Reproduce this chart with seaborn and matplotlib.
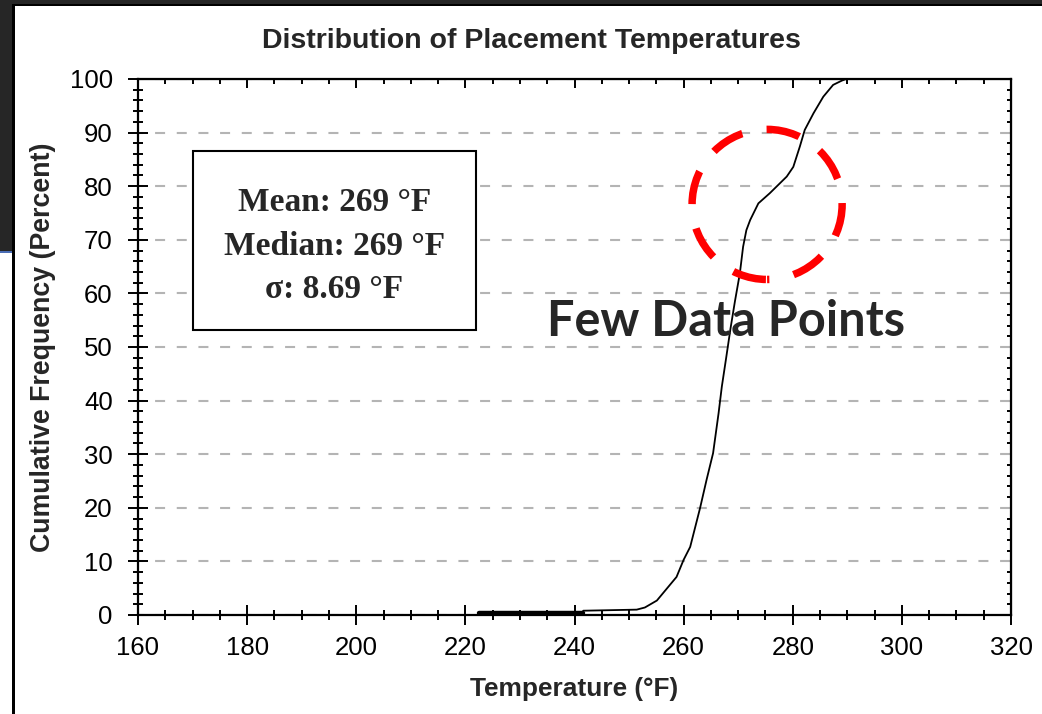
import matplotlib
matplotlib.use("Agg")
import matplotlib.pyplot as plt
from matplotlib.patches import Rectangle, Ellipse
from matplotlib.ticker import MultipleLocator
import seaborn as sns
import pandas as pd

# Cumulative distribution of placement temperatures
temperature_f = [222.5, 230.0, 241.5, 241.6, 251.4, 252.9, 255.1, 258.7, 260.0,
                 261.2, 263.0, 264.2, 265.4, 266.4, 267.0, 267.8, 268.6, 269.4,
                 270.3, 270.9, 271.5, 272.2, 273.7, 275.8, 277.0, 278.9, 280.1,
                 281.3, 282.2, 283.8, 285.6, 287.4, 289.0, 289.8]
cumulative_pct = [0.3, 0.3, 0.3, 0.8, 1.0, 1.4, 2.7, 7.1, 10.3,
                  12.7, 19.9, 25.2, 30.2, 37.6, 42.6, 48.0, 53.5, 58.5,
                  63.7, 68.7, 71.8, 73.7, 76.8, 78.7, 79.9, 81.8, 83.6,
                  87.4, 90.5, 93.6, 96.7, 98.9, 99.7, 100.0]

stats_lines = ["Mean: 269 °F", "Median: 269 °F", "σ: 8.69 °F"]
callout_text = "Few Data Points"
callout_center = (275.3, 76.6)   # temperature, percent
callout_size = (27.5, 28.0)

x_ticks = [160, 180, 200, 220, 240, 260, 280, 300, 320]
y_ticks = [0, 10, 20, 30, 40, 50, 60, 70, 80, 90, 100]

df = pd.DataFrame({"Temperature": temperature_f, "Cumulative": cumulative_pct})

sns.set_style("white")
plt.rcParams["font.family"] = ["Liberation Sans", "DejaVu Sans"]

W, H = 1042, 714
fig = plt.figure(figsize=(W / 100, H / 100), dpi=100)
fig.patch.set_facecolor("white")


def px_rect(x0, y0, x1, y1, color):
    # rectangle given in pixel coordinates measured from the top-left corner
    fig.add_artist(Rectangle((x0 / W, 1 - y1 / H), (x1 - x0) / W, (y1 - y0) / H,
                             transform=fig.transFigure, facecolor=color,
                             edgecolor="none", zorder=0))


# slide frame around the chart
px_rect(0, 0, W, 5, "#262626")
px_rect(0, 0, 12, 251, "#262626")
px_rect(0, 251, 12, 253, "#4a6db5")
px_rect(12, 4, W, 6, "#000000")
px_rect(12, 4, 14.5, H, "#000000")

ax = fig.add_axes([138 / W, 1 - 615 / H, (1011 - 138) / W, (615 - 79) / H])

sns.lineplot(data=df, x="Temperature", y="Cumulative", ax=ax, color="black",
             linewidth=1.3, estimator=None, sort=False, zorder=4)
sns.lineplot(data=df.iloc[:3], x="Temperature", y="Cumulative", ax=ax,
             color="black", linewidth=3.2, estimator=None, sort=False, zorder=4)

ax.set_xlim(x_ticks[0], x_ticks[-1])
ax.set_ylim(y_ticks[0], y_ticks[-1])
ax.set_xticks(x_ticks)
ax.set_yticks(y_ticks)
ax.xaxis.set_minor_locator(MultipleLocator(5))
ax.yaxis.set_minor_locator(MultipleLocator(2))

for s in ax.spines.values():
    s.set_linewidth(1.6)
    s.set_color("black")
    s.set_zorder(6)

ax.tick_params(which="both", bottom=True, left=True, top=False, right=False)
ax.tick_params(which="major", direction="inout", length=14.5, width=1.4,
               labelsize=18.5, colors="black")
ax.tick_params(which="minor", direction="inout", length=7.5, width=1.4,
               colors="black")
ax.tick_params(axis="x", which="major", pad=8)
ax.tick_params(axis="y", which="major", pad=11)

top = ax.secondary_xaxis("top")
top.set_xticks(x_ticks)
top.xaxis.set_minor_locator(MultipleLocator(5))
top.tick_params(which="both", top=True, bottom=False, labeltop=False,
                direction="in", width=1.4, colors="black")
top.tick_params(which="major", length=6.5)
top.tick_params(which="minor", length=3.6)
right = ax.secondary_yaxis("right")
right.set_yticks(y_ticks)
right.yaxis.set_minor_locator(MultipleLocator(2))
right.tick_params(which="both", right=True, left=False, labelright=False,
                  direction="in", width=1.4, colors="black")
right.tick_params(which="major", length=7)
right.tick_params(which="minor", length=3.2)

ax.yaxis.grid(True, color="#b4b4b4", linewidth=1.5, linestyle=(2.2, (4.8, 5.6)))
ax.xaxis.grid(False)
ax.set_axisbelow(True)

ax.set_xlabel("Temperature (°F)", fontsize=18.9, fontweight="bold", labelpad=12)
ax.set_ylabel("Cumulative Frequency (Percent)", fontsize=19.3, fontweight="bold",
              labelpad=10)

fig.text(531 / W, 1 - 41 / H, "Distribution of Placement Temperatures",
         ha="center", va="center", fontsize=20.5, fontweight="bold")

# summary statistics box
ax.add_patch(Rectangle((0.063, 0.532), 0.324, 0.334, transform=ax.transAxes,
                       facecolor="white", edgecolor="black", linewidth=1.5, zorder=5))
ax.text(0.225, 0.688, "\n".join(stats_lines), transform=ax.transAxes,
        ha="center", va="center", fontsize=24, fontweight="bold",
        family=["Liberation Serif", "DejaVu Serif"], linespacing=1.53, zorder=6)

# highlight of the sparse region
ax.add_patch(Ellipse(callout_center, callout_size[0], callout_size[1],
                     fill=False, edgecolor="#ff0000", linewidth=5.4,
                     linestyle=(4.2, (4.5, 3.3)), zorder=7))
fig.text(726 / W, 1 - 322 / H, callout_text, ha="center", va="center",
         fontsize=35, fontweight="bold", family=["Lato", "DejaVu Sans"])

fig.savefig("out.png", dpi=100, facecolor=fig.get_facecolor())
